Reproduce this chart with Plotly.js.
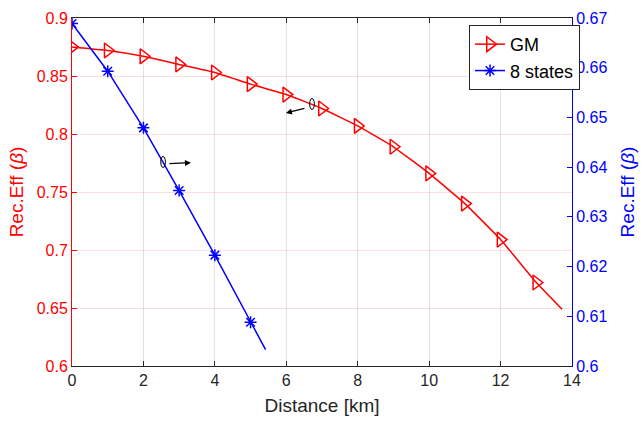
<!DOCTYPE html>
<html><head><meta charset="utf-8">
<script src="https://cdn.plot.ly/plotly-3.0.1.min.js"></script>
<style>html,body{margin:0;padding:0;background:#fff}#chart{width:643px;height:423px}</style>
</head><body><div id="chart"></div>
<script>
// GM series (left axis)
const gmX = [0,1,2,3,4,5,6,7,8,9,10,11,12,13];
const gmY = [0.875,0.872,0.867,0.860,0.853,0.843,0.834,0.822,0.807,0.789,0.766,0.740,0.709,0.672];
const gmEndX = 13.72, gmEndY = 0.649;
// 8 states series (right axis)
const stX = [0,1,2,3,4,5];
const stY = [0.6689,0.6593,0.6479,0.6353,0.6223,0.6088];
const stEndX = 5.42, stEndY = 0.6033;
const xTicks = [0,2,4,6,8,10,12,14];
const yTicksL = [0.6,0.65,0.7,0.75,0.8,0.85,0.9];
const yTicksR = [0.6,0.61,0.62,0.63,0.64,0.65,0.66,0.67];
// annotation arrows: [headX, headY, tailOffsetX(px), tailOffsetY(px)] and ellipse centres
const arrows = [[5.99,0.8181,20,-5],[3.33,0.7753,-23,1]];
const ellipses = [[6.72,0.8259],[2.55,0.7759]];

const font = "Liberation Sans, Arial, sans-serif";
const traces = [
  {x: gmX, y: gmY, mode:'markers', type:'scatter', name:'GM', showlegend:false,
   marker:{symbol:'triangle-right-open', size:13, color:'#ff0000', line:{width:1.5, color:'#ff0000'}}},
  {x: gmX.concat([gmEndX]), y: gmY.concat([gmEndY]), mode:'lines', line:{color:'#ff0000', width:1.5, shape:'spline', smoothing:0.3}, showlegend:false},
  {x: stX, y: stY, mode:'markers', yaxis:'y2', showlegend:false,
   marker:{symbol:'asterisk-open', size:10, color:'#0000ff', line:{width:1.5, color:'#0000ff'}}},
  {x: stX.concat([stEndX]), y: stY.concat([stEndY]), yaxis:'y2', mode:'lines', line:{color:'#0000ff', width:1.5}, showlegend:false},
  // legend entries
  {x:[null], y:[null], mode:'lines+markers', name:'GM', line:{color:'#ff0000', width:1.5},
   marker:{symbol:'triangle-right-open', size:13, color:'#ff0000', line:{width:1.5,color:'#ff0000'}}},
  {x:[null], y:[null], mode:'lines+markers', name:'8 states', line:{color:'#0000ff', width:1.5},
   marker:{symbol:'asterisk-open', size:10, color:'#0000ff', line:{width:1.5,color:'#0000ff'}}}
];
const annotations = arrows.map(a => ({x:a[0], y:a[1], xref:'x', yref:'y', ax:a[2], ay:a[3], text:'',
  showarrow:true, arrowhead:2, arrowsize:1, arrowwidth:1.2, arrowcolor:'#000'}));
const shapes = ellipses.map(e => ({type:'circle', xref:'x', yref:'y', x0:e[0]-0.065, x1:e[0]+0.065,
  y0:e[1]-0.0048, y1:e[1]+0.0048, line:{color:'#000', width:1}}));

const layout = {
  width:643, height:423,
  margin:{l:72, r:71, t:18, b:57},
  paper_bgcolor:'#fff', plot_bgcolor:'#fff',
  font:{family:font, size:16, color:'#262626'},
  showlegend:true,
  legend:{x:0.794, y:0.98, xanchor:'left', yanchor:'top', bgcolor:'#fff', bordercolor:'#262626', borderwidth:1,
    font:{family:font, size:18, color:'#000'}, tracegroupgap:0, itemwidth:30},
  xaxis:{range:[0,14], tickvals:xTicks, ticks:'inside', ticklen:5, tickcolor:'#262626',
    showline:true, linecolor:'#262626', linewidth:1, mirror:'ticks', showgrid:true, gridcolor:'#e3e3e3',
    zeroline:false, tickfont:{size:16, color:'#262626'},
    title:{text:'Distance [km]', font:{size:19, color:'#262626'}, standoff:10}},
  yaxis:{range:[0.6,0.9], tickvals:yTicksL, ticktext:yTicksL.map(v=>String(v)), ticks:'inside', ticklen:5, tickcolor:'#ff0000',
    showline:true, linecolor:'#ff0000', linewidth:1, showgrid:true, gridcolor:'rgba(255,0,0,0.13)',
    zeroline:false, tickfont:{size:16, color:'#ff0000'},
    title:{text:'Rec.Eff (<i>β</i>)', font:{size:19, color:'#ff0000'}, standoff:8}},
  yaxis2:{range:[0.6,0.67], overlaying:'y', side:'right', tickvals:yTicksR, ticktext:yTicksR.map(v=>String(v)),
    ticks:'inside', ticklen:5, tickcolor:'#0000ff', showline:true, linecolor:'#0000ff', linewidth:1,
    showgrid:false, zeroline:false, tickfont:{size:16, color:'#0000ff'},
    title:{text:'Rec.Eff (<i>β</i>)', font:{size:19, color:'#0000ff'}, standoff:14}},
  annotations: annotations,
  shapes: shapes
};
Plotly.newPlot('chart', traces, layout, {displayModeBar:false, staticPlot:true});
</script></body></html>
